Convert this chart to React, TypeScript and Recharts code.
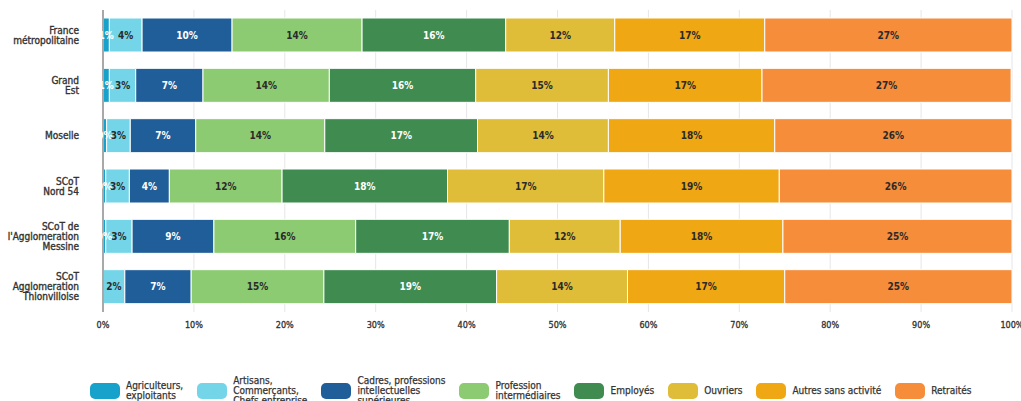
import React from 'react';
import { BarChart, Bar, XAxis, YAxis, CartesianGrid, LabelList } from 'recharts';

const categories = [
  'France\nmétropolitaine',
  'Grand\nEst',
  'Moselle',
  'SCoT\nNord 54',
  "SCoT de\nl'Agglomeration\nMessine",
  'SCoT\nAgglomeration\nThionvilloise',
];

const agriculteurs = [0.7, 0.7, 0.4, 0.3, 0.3, 0];
const artisans = [3.6, 2.9, 2.6, 2.6, 2.9, 2.4];
const cadres = [9.9, 7.4, 7.2, 4.4, 9.0, 7.3];
const profInter = [14.3, 13.9, 14.2, 12.4, 15.6, 14.6];
const employes = [15.8, 16.1, 16.8, 18.2, 16.9, 19.0];
const ouvriers = [12.0, 14.6, 14.4, 17.2, 12.2, 14.4];
const autres = [16.5, 16.9, 18.3, 19.3, 17.9, 17.3];
const retraites = [27.2, 27.4, 26.1, 25.6, 25.2, 25.0];

const xTicks = [0, 10, 20, 30, 40, 50, 60, 70, 80, 90, 100];

const series = [
  { key: 'agri', name: 'Agriculteurs,\nexploitants', values: agriculteurs, color: '#16a2cb', text: '#fff' },
  { key: 'arti', name: 'Artisans,\nCommerçants,\nChefs entreprise', values: artisans, color: '#74d5e8', text: '#2a2a2a' },
  { key: 'cadr', name: 'Cadres, professions\nintellectuelles\nsupérieures', values: cadres, color: '#1f5e98', text: '#fff' },
  { key: 'prof', name: 'Profession\nintermédiaires', values: profInter, color: '#8dcb73', text: '#2a2a2a' },
  { key: 'empl', name: 'Employés', values: employes, color: '#3f8b50', text: '#fff' },
  { key: 'ouvr', name: 'Ouvriers', values: ouvriers, color: '#dfbd39', text: '#2a2a2a' },
  { key: 'autr', name: 'Autres sans activité', values: autres, color: '#efa713', text: '#2a2a2a' },
  { key: 'retr', name: 'Retraités', values: retraites, color: '#f58d3b', text: '#2a2a2a' },
];

const data = categories.map((name, i) => {
  const row: Record<string, any> = { name };
  series.forEach((s) => {
    row[s.key] = s.values[i];
  });
  return row;
});

const FONT = "'DejaVu Sans Condensed', 'Liberation Sans Narrow', sans-serif";

function CategoryTick(props: any) {
  const { x, y, payload } = props;
  const lines = String(payload.value).split('\n');
  const lh = 10;
  const startY = y - ((lines.length - 1) * lh) / 2 + 3.5;
  return (
    <text
      x={x - 16}
      y={startY}
      textAnchor="end"
      fontFamily={FONT}
      fontSize={10}
      fill="#333"
      stroke="#333"
      strokeWidth={0.35}
    >
      {lines.map((l, i) => (
        <tspan key={i} x={x - 16} y={startY + i * lh}>
          {l}
        </tspan>
      ))}
    </text>
  );
}

const fmt = (v: any) => (v > 0 ? `${Math.round(v)}%` : '');

function Legend() {
  return (
    <div
      style={{
        position: 'absolute',
        left: 90,
        top: 376,
        display: 'flex',
        alignItems: 'center',
        gap: 14,
        fontFamily: FONT,
        fontSize: 10,
        color: '#333',
      }}
    >
      {series.map((s) => (
        <div key={s.key} style={{ display: 'flex', alignItems: 'center' }}>
          <div style={{ width: 30, height: 16, borderRadius: 5, background: s.color, marginRight: 6 }} />
          <div style={{ whiteSpace: 'pre', lineHeight: '10px', WebkitTextStroke: '0.25px #333' }}>{s.name}</div>
        </div>
      ))}
    </div>
  );
}

export default function App() {
  return (
    <div style={{ position: 'relative', width: 1021, height: 401, overflow: 'hidden', background: '#fff' }}>
      <style>{'body{margin:0}'}</style>
      <BarChart
        layout="vertical"
        width={1021}
        height={401}
        data={data}
        margin={{ top: 10, right: 9, left: 0, bottom: 59 }}
        barSize={34}
      >
        <CartesianGrid horizontal={false} stroke="#e6e6e6" />
        <XAxis
          type="number"
          domain={[0, 100]}
          ticks={xTicks}
          tickFormatter={(v) => `${v}%`}
          axisLine={false}
          tickLine={false}
          height={30}
          interval={0}
          tickMargin={4}
          tick={{ fontSize: 9, fill: '#333', fontFamily: FONT, stroke: '#333', strokeWidth: 0.3 }}
        />
        <YAxis
          type="category"
          dataKey="name"
          width={103}
          axisLine={{ stroke: '#a8a8a8', strokeWidth: 2 }}
          tickLine={false}
          tick={<CategoryTick />}
          interval={0}
        />
        {series.map((s) => (
          <Bar key={s.key} dataKey={s.key} stackId="a" fill={s.color} stroke="#fff" strokeWidth={1} isAnimationActive={false}>
            <LabelList
              dataKey={s.key}
              position="center"
              formatter={fmt}
              fill={s.text}
              fontSize={10}
              fontFamily={FONT}
              fontWeight="bold"
            />
          </Bar>
        ))}
      </BarChart>
      <Legend />
    </div>
  );
}
